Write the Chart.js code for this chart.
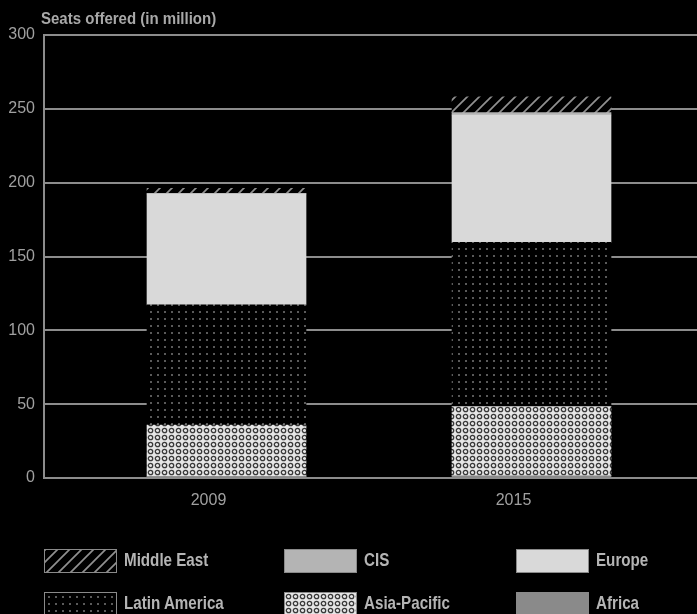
<!DOCTYPE html>
<html>
<head>
<meta charset="utf-8">
<script src="https://cdn.jsdelivr.net/npm/chart.js@4.4.1/dist/chart.umd.min.js"></script>
<style>
html,body{margin:0;padding:0;background:#000;}
#wrap{position:relative;width:697px;height:614px;overflow:hidden;background:#000;}
#title{position:absolute;left:41px;top:8px;font-family:"Liberation Sans",Arial,sans-serif;font-weight:bold;font-size:16.5px;color:#a8a8a8;white-space:nowrap;line-height:20px;transform:scaleX(0.91);transform-origin:0 50%;}
.item{position:absolute;display:flex;align-items:center;height:24px;font-family:"Liberation Sans",Arial,sans-serif;font-weight:bold;font-size:18.5px;color:#b4b4b4;white-space:nowrap;}
.item span{display:inline-block;transform:scaleX(0.82);transform-origin:0 50%;margin-top:-2px;}
.box{width:73px;height:24px;box-sizing:border-box;border:1px solid #8a8a8a;margin-right:7px;flex:none;}
</style>
</head>
<body>
<div id="wrap">
  <canvas id="c" width="697" height="614"></canvas>
  <div id="title">Seats offered (in million)</div>
  <div id="legend"></div>
</div>
<script>
// ---- data ----
const categories = ['2009', '2015'];
const yTicks = [0, 50, 100, 150, 200, 250, 300];
const africa       = [1.0, 1.5];
const asiaPacific  = [34.9, 46.8];
const latinAmerica = [81.3, 111.3];
const europe       = [75.1, 86.2];
const cis          = [0.5, 1.6];
const middleEast   = [3.4, 10.8];
const seriesNames  = ['Africa', 'Asia-Pacific', 'Latin America', 'Europe', 'CIS', 'Middle East'];
const seriesValues = [africa, asiaPacific, latinAmerica, europe, cis, middleEast];

// ---- patterns ----
const canvas = document.getElementById('c');
const ctx = canvas.getContext('2d');
function makeTile(w, h, draw) {
  const t = document.createElement('canvas');
  t.width = w; t.height = h;
  const c = t.getContext('2d');
  draw(c, w, h);
  return { pattern: ctx.createPattern(t, 'repeat'), url: t.toDataURL() };
}
const dots = makeTile(7, 7, (c, w, h) => {
  c.fillStyle = '#000'; c.fillRect(0, 0, w, h);
  c.fillStyle = '#5a5a5a'; c.fillRect(3, 3, 2, 2);
});
const rings = makeTile(7, 7, (c, w, h) => {
  c.fillStyle = '#e6e6e6'; c.fillRect(0, 0, w, h);
  c.strokeStyle = '#3a3a3a'; c.lineWidth = 1.3;
  c.beginPath(); c.arc(3.5, 3.5, 2.2, 0, Math.PI * 2); c.stroke();
});
const hatch = makeTile(12, 12, (c, w, h) => {
  c.fillStyle = '#000'; c.fillRect(0, 0, w, h);
  c.strokeStyle = '#909090'; c.lineWidth = 1.7;
  c.beginPath();
  c.moveTo(-2, 14); c.lineTo(14, -2);
  c.moveTo(-2, 2); c.lineTo(2, -2);
  c.moveTo(10, 14); c.lineTo(14, 10);
  c.stroke();
});
const fills = [
  { bg: '#8a8a8a', css: '#8a8a8a' },
  { bg: rings.pattern, css: 'url(' + rings.url + ')' },
  { bg: dots.pattern, css: 'url(' + dots.url + ')' },
  { bg: '#d9d9d9', css: '#d9d9d9' },
  { bg: '#b4b4b4', css: '#b4b4b4' },
  { bg: hatch.pattern, css: 'url(' + hatch.url + ')' }
];

const datasets = seriesNames.map((name, i) => ({
  label: name,
  data: seriesValues[i].map((v, j) => ({ x: j, y: v })),
  backgroundColor: fills[i].bg,
  borderWidth: 0,
  barThickness: 159
}));

const tickFont = { family: 'Liberation Sans', size: 16 };

new Chart(ctx, {
  type: 'bar',
  data: { datasets },
  options: {
    responsive: false,
    animation: false,
    layout: { padding: { top: 35, right: 0, bottom: 96, left: 0 } },
    plugins: { legend: { display: false }, tooltip: { enabled: false } },
    scales: {
      x: {
        type: 'linear', min: -0.5984, max: 1.5426, stacked: true, offset: false,
        grid: { display: false, drawTicks: false },
        border: { display: false },
        afterBuildTicks: s => { s.ticks = categories.map((c, i) => ({ value: i })); },
        ticks: {
          callback: v => categories[v], labelOffset: -18, padding: 13,
          color: '#a0a0a0', font: tickFont, maxRotation: 0, autoSkip: false
        },
        afterFit: s => { s.height = 40; }
      },
      y: {
        stacked: true, min: 0, max: 300,
        afterBuildTicks: s => { s.ticks = yTicks.map(v => ({ value: v })); },
        grid: { color: '#8c8c8c', lineWidth: 2, drawTicks: false },
        border: { color: '#8c8c8c', width: 2 },
        ticks: { padding: 9, color: '#a0a0a0', font: tickFont },
        afterFit: s => { s.width = 44; }
      }
    }
  }
});

// ---- legend (3 columns, reverse stacking order) ----
const legend = document.getElementById('legend');
const order = [5, 4, 3, 2, 1, 0];
const colX = [44, 284, 516];
const rowY = [549, 592];
order.forEach((si, k) => {
  const item = document.createElement('div');
  item.className = 'item';
  item.style.left = colX[k % 3] + 'px';
  item.style.top = rowY[Math.floor(k / 3)] + 'px';
  const box = document.createElement('div');
  box.className = 'box';
  box.style.background = fills[si].css;
  const txt = document.createElement('span');
  txt.textContent = seriesNames[si];
  item.appendChild(box); item.appendChild(txt);
  legend.appendChild(item);
});
</script>
</body>
</html>
